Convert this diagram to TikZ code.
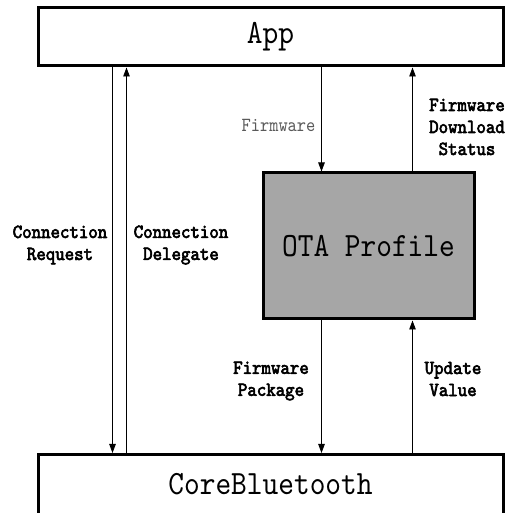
\documentclass[tikz,border=0pt]{standalone}
\usepackage{fontspec}
\usetikzlibrary{arrows.meta}
% condensed typewriter faces for the block titles and the connector labels
\newfontfamily\blockfont{lmmono10-regular.otf}[FakeStretch=0.88]
\newfontfamily\labelfont{lmmono10-regular.otf}[FakeStretch=0.9,FakeBold=3]
\definecolor{otagray}{HTML}{A6A6A6}
\definecolor{softtext}{HTML}{5A5A5A}
\tikzset{
  bigbox/.style={draw, line width=3pt, minimum width=465pt, inner sep=0pt},
  otabox/.style={draw, line width=3pt, fill=otagray, minimum width=211pt,
    minimum height=146pt, inner sep=0pt},
  title/.style={font=\blockfont\fontsize{34}{36}\selectfont},
  flow/.style={line width=0.9pt, -{Triangle[length=9pt,width=6.5pt]}},
  lbl/.style={align=center, inner sep=0pt, font=\labelfont\fontsize{20}{22}\selectfont},
  soft/.style={align=center, inner sep=0pt, text=softtext,
    font=\blockfont\fontsize{20}{22}\selectfont}
}
\begin{document}
\begin{tikzpicture}[x=1pt,y=1pt]
  \clip (0,0) rectangle (509,513);
  \fill[white] (0,0) rectangle (509,513);

  % layers
  \node[bigbox, title, minimum height=58pt] (app) at (270.5,476) {App};
  \node[bigbox, minimum height=100pt, anchor=north] (cb) at (270.5,60) {};
  \node[title] (cbtitle) at (270.5,29) {CoreBluetooth};
  \node[otabox, title] (ota) at (368.5,267) {OTA Profile};

  % connection handling between App and CoreBluetooth
  \draw[flow] ([xshift=76pt]app.south west) -- ([xshift=76pt]cb.north west);
  \draw[flow] ([xshift=90pt]cb.north west) -- ([xshift=90pt]app.south west);

  % firmware path through the OTA profile
  \draw[flow] ([xshift=285pt]app.south west) -- ([xshift=60pt]ota.north west);
  \draw[flow] ([xshift=151pt]ota.north west) -- ([xshift=376pt]app.south west);
  \draw[flow] ([xshift=60pt]ota.south west) -- ([xshift=285pt]cb.north west);
  \draw[flow] ([xshift=376pt]cb.north west) -- ([xshift=151pt]ota.south west);

  % connector labels
  \node[lbl] (lreq) at (60,268) {Connection\\Request};
  \node[lbl] (ldel) at (181,268) {Connection\\Delegate};
  \node[soft] (lfw) at (278.5,388) {Firmware};
  \node[lbl] (lstat) at (467,386) {Firmware\\Download\\Status};
  \node[lbl] (lpkg) at (271,132) {Firmware\\Package};
  \node[lbl] (lupd) at (453,134) {Update\\Value};
\end{tikzpicture}
\end{document}
